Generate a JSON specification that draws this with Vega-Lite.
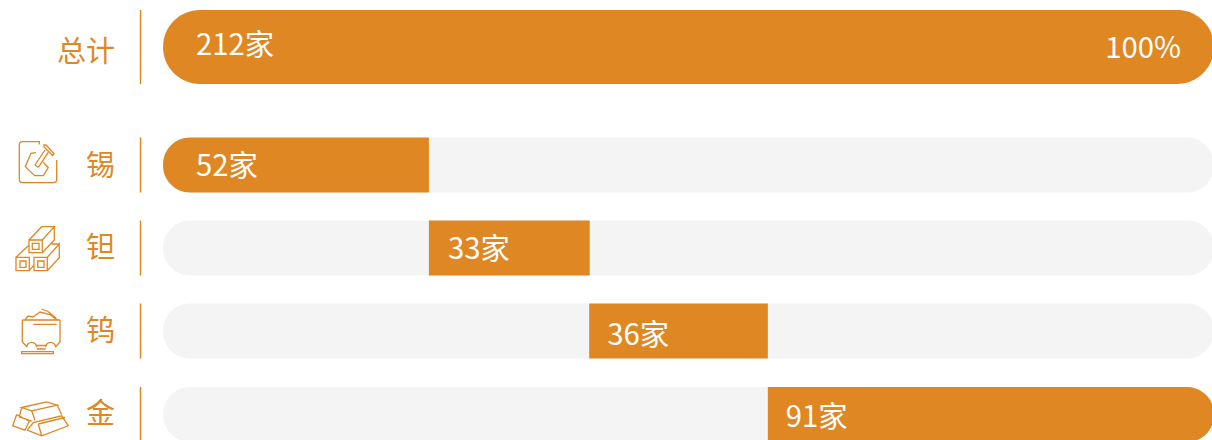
{"$schema":"https://vega.github.io/schema/vega-lite/v6.json","width":1212,"height":440,"padding":0,"autosize":{"type":"none"},"background":"#ffffff","config":{"view":{"stroke":null},"text":{"font":"Noto Sans CJK SC","fontSize":29.3},"axis":{"grid":false}},
"data":{"values":[
{"row":1,"name":"总计","label":"212家","count":212,"start":0,"end":100,"kind":"total"},
{"row":2,"name":"锡","label":"52家","count":52,"start":0,"end":25.3,"kind":"first"},
{"row":3,"name":"钽","label":"33家","count":33,"start":25.3,"end":40.6,"kind":"mid"},
{"row":4,"name":"钨","label":"36家","count":36,"start":40.55,"end":57.55,"kind":"mid"},
{"row":5,"name":"金","label":"91家","count":91,"start":57.55,"end":100,"kind":"last"}
]},
"encoding":{
"y":{"field":"row","type":"quantitative","axis":null,"scale":{"domain":[1,2,3,4,5],"range":[47,165,248,331,414.5],"nice":false,"zero":false,"padding":0}},
"x":{"field":"start","type":"quantitative","axis":null,"scale":{"domain":[-15.51,99.81],"range":[0,1212],"nice":false,"zero":false,"padding":0}}
},
"layer":[
{"transform":[{"filter":"datum.row>1"}],"mark":{"type":"bar","size":55,"color":"#f4f4f4","cornerRadius":27},"encoding":{"x":{"datum":0},"x2":{"datum":100}}},
{"transform":[{"filter":"datum.kind=='total'"}],"mark":{"type":"bar","size":74,"color":"#df8723","cornerRadius":37},"encoding":{"x2":{"field":"end"}}},
{"transform":[{"filter":"datum.kind=='first'"}],"mark":{"type":"bar","size":55,"color":"#df8723","cornerRadiusTopLeft":27,"cornerRadiusBottomLeft":27},"encoding":{"x2":{"field":"end"}}},
{"transform":[{"filter":"datum.kind=='mid'"}],"mark":{"type":"bar","size":55,"color":"#df8723"},"encoding":{"x2":{"field":"end"}}},
{"transform":[{"filter":"datum.kind=='last'"}],"mark":{"type":"bar","size":55,"color":"#df8723","cornerRadiusTopRight":27,"cornerRadiusBottomRight":27},"encoding":{"x2":{"field":"end"}}},
{"transform":[{"filter":"datum.row==1"}],"mark":{"type":"tick","orient":"vertical","size":74,"thickness":1.5,"color":"#df8723","opacity":1},"encoding":{"x":{"datum":-2.14}}},
{"transform":[{"filter":"datum.row>1"}],"mark":{"type":"tick","orient":"vertical","size":55,"thickness":1.5,"color":"#df8723","opacity":1},"encoding":{"x":{"datum":-2.14}}},
{"transform":[{"filter":"datum.row==1"}],"mark":{"type":"text","align":"right","baseline":"middle","fontSize":29,"dy":6,"color":"#df8723"},"encoding":{"x":{"datum":-4.57},"text":{"field":"name"}}},
{"transform":[{"filter":"datum.row==2"}],"mark":{"type":"text","align":"right","baseline":"middle","fontSize":29,"dy":2,"color":"#df8723"},"encoding":{"x":{"datum":-4.57},"text":{"field":"name"}}},
{"transform":[{"filter":"datum.row==3||datum.row==4"}],"mark":{"type":"text","align":"right","baseline":"middle","fontSize":29,"dy":1,"color":"#df8723"},"encoding":{"x":{"datum":-4.57},"text":{"field":"name"}}},
{"transform":[{"filter":"datum.row==5"}],"mark":{"type":"text","align":"right","baseline":"middle","fontSize":29,"dy":0,"color":"#df8723"},"encoding":{"x":{"datum":-4.57},"text":{"field":"name"}}},
{"transform":[{"filter":"datum.row>1"}],"mark":{"type":"point","size":4,"filled":false,"opacity":1,"strokeWidth":1.3,"color":"#df8723"},"encoding":{"x":{"datum":-11.8},"shape":{"field":"name","type":"nominal","legend":null,"scale":{"domain":["锡","钽","钨","金"],"range":[
"M0.3 -20.5L0.3 -23.3L-16.3 -23.3Q-19.7 -23.3 -19.7 -20L-19.7 14.3Q-19.7 17.7 -16.3 17.7L14.3 17.7Q17.7 17.7 17.7 14.3L17.7 -5M-3 -12.3L-8 -11.7L-13.7 1.7L-4.3 10.7L4.3 10.7L9.3 2.7L4.3 -2.7M-4 0L6 -15M-0.7 2.3L9.3 -12.7M-4 0L-0.7 2.3M5 -20L7 -20L15 -11.5L13.7 -9.5L5 -18Z",
"M-10 -8L3.3 -8L3.3 4.7L-10 4.7ZM-6.7 -4.7L0 -4.7L0 1.3L-6.7 1.3ZM-10 -8L2.7 -21.3L15.3 -21.3L3.3 -8M15.3 -21.3L15.3 -8L3.3 4.7M-23 9.3L-9.7 9.3L-9.7 22.7L-23 22.7ZM-19 13L-13 13L-13 19.3L-19 19.3ZM-23 9.3L-10.7 -2.3M-9.7 22.7L-5 17M-5 9.3L8.3 9.3L8.3 22.7L-5 22.7ZM-1.3 13L5 13L5 19.3L-1.3 19.3ZM8.3 9.3L20.3 -4L20.3 9.7L8.3 22.7M12.7 -4L20.3 -4",
"M-16.7 -11L21 -11M-16.7 -11L-16.7 10.7L-12.3 15.7M21 -11L21 10.7L17 15.7M-12.3 16.3A5 5 0 1 1 -2.3 16.3M6.7 16.3A5 5 0 1 1 16.7 16.3M-2.3 14.5L6.7 14.5M-2.3 18L6.7 18M-17.3 20.7L14.3 20.7L14.3 22.7L-17.3 22.7ZM-5.7 -6.7L17.7 -6.7M-14 -11L-11 -15L-6 -14L1 -19L11 -16.5L16 -12.5L19 -11M2.7 -22L9 -19.5L17.5 -12.5",
"M-17.3 -7L7.7 -12.7L18.3 -9.3L-7.3 -3.7ZM-7.3 -3.7L-4 5.7M18.3 -9.3L22.7 0M-17.3 -7L-19.7 2.3L-7.3 6.7M-22.3 0L-26.3 11.3L-14 15.7L-9.7 6.7M-22.3 0L-9.7 6.7M-11.7 15.7L-5.7 8L22.7 1.3L29.3 11.3L2.7 21.3L-11.7 15.7M-0.7 9.5L2.7 21.3M-0.7 9.5L26 3"
]}}}},
{"transform":[{"filter":"datum.row==1"}],"mark":{"type":"text","align":"left","baseline":"middle","dx":33,"dy":-1,"color":"#ffffff"},"encoding":{"text":{"field":"label"}}},
{"transform":[{"filter":"datum.row==1"}],"mark":{"type":"text","align":"right","baseline":"middle","dx":-33,"dy":2,"color":"#ffffff"},"encoding":{"x":{"field":"end"},"text":{"value":"100%"}}},
{"transform":[{"filter":"datum.row==2"}],"mark":{"type":"text","align":"left","baseline":"middle","dx":33,"dy":2,"color":"#ffffff"},"encoding":{"text":{"field":"label"}}},
{"transform":[{"filter":"datum.row==3"}],"mark":{"type":"text","align":"left","baseline":"middle","dx":19,"dy":2,"color":"#ffffff"},"encoding":{"text":{"field":"label"}}},
{"transform":[{"filter":"datum.row==4"}],"mark":{"type":"text","align":"left","baseline":"middle","dx":18,"dy":5,"color":"#ffffff"},"encoding":{"text":{"field":"label"}}},
{"transform":[{"filter":"datum.row==5"}],"mark":{"type":"text","align":"left","baseline":"middle","dx":18,"dy":3,"color":"#ffffff"},"encoding":{"text":{"field":"label"}}}
]}
